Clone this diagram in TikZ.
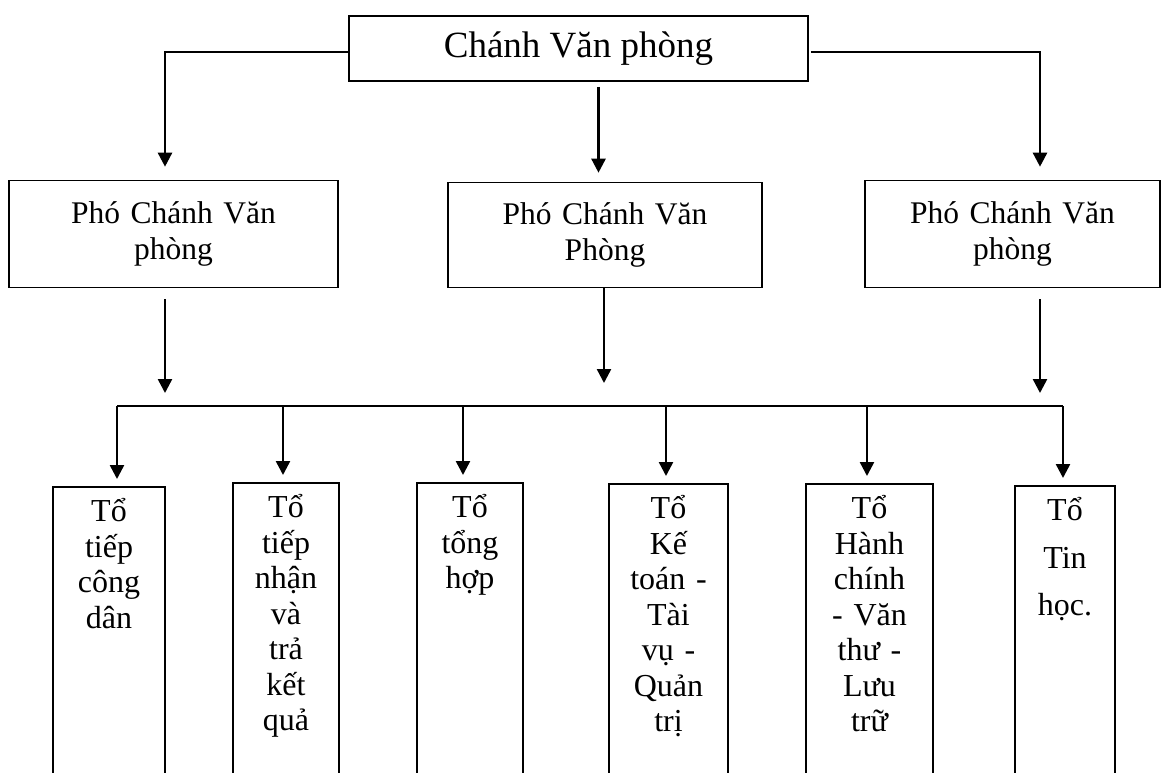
\documentclass[tikz,border=0pt]{standalone}
\usepackage{fontspec}
\setmainfont{Liberation Serif}
\usetikzlibrary{arrows.meta,positioning,calc}

\begin{document}
\begin{tikzpicture}[x=1pt,y=-1pt,
  hop/.style={draw,line width=1.6pt,inner sep=0pt,align=center,font=\fontsize{31.5}{36}\selectfont},
  tobox/.style={draw,line width=1.6pt,anchor=north,inner xsep=0pt,inner ysep=12pt,text width=#1,align=center,text depth=300pt,font=\fontsize{32}{35.5}\selectfont},
  arr/.style={line width=2.5pt,-{Triangle[length=14pt,width=14pt]}}]
\useasboundingbox (0,0) rectangle (1164,772);
\clip (0,0) rectangle (1164,772);
\node[hop,minimum width=459pt,minimum height=65pt,font=\fontsize{37}{44}\selectfont] (cvp) at (578.5,48.5) {Chánh Văn phòng};
\node[hop,minimum width=329pt,minimum height=107pt,text width=300pt] (p1) at (173.5,234) {Phó Chánh Văn\\phòng};
\node[hop,minimum width=314pt,minimum height=105pt,text width=290pt] (p2) at (605,235) {Phó Chánh Văn\\Phòng};
\node[hop,minimum width=295pt,minimum height=107pt,text width=280pt] (p3) at (1012.5,234) {Phó Chánh Văn\\phòng};
\draw[arr,shorten >=13pt] ([yshift=-3.5pt]cvp.west) -| ([xshift=-8.5pt]p1.north);
\draw[arr,shorten <=5pt,shorten >=9pt] ([xshift=20pt]cvp.south) -- ([xshift=20pt]cvp.south |- p2.north);
\draw[arr,shorten <=2pt,shorten >=13pt] ([yshift=-3.5pt]cvp.east) -| ([xshift=27.5pt]p3.north);
\node[tobox=112pt] (t1) at (109,486) {Tổ\\tiếp\\công\\dân};
\node[tobox=106pt] (t2) at (286,482) {Tổ\\tiếp\\nhận\\và\\trả\\kết\\quả};
\node[tobox=106pt] (t3) at (470,482) {Tổ\\tổng\\hợp};
\node[tobox=119pt] (t4) at (668.5,483) {Tổ\\Kế\\toán -\\Tài\\vụ -\\Quản\\trị};
\node[tobox=127pt] (t5) at (869.5,483) {Tổ\\Hành\\chính\\- Văn\\thư -\\Lưu\\trữ};
\node[tobox=100pt,font=\fontsize{32}{47.5}\selectfont] (t6) at (1065,485) {Tổ\\Tin\\học.};
\coordinate (b1) at (117,406);
\coordinate (b2) at (283,406);
\coordinate (b3) at (463,406);
\coordinate (b4) at (666,406);
\coordinate (b5) at (867,406);
\coordinate (b6) at (1063,406);
\draw[arr,shorten <=11pt,shorten >=13pt] ([xshift=-8.5pt]p1.south) -- ([xshift=-8.5pt]p1.south |- b1);
\draw[arr,shorten >=23pt] ([xshift=-1pt]p2.south) -- ([xshift=-1pt]p2.south |- b1);
\draw[arr,shorten <=11pt,shorten >=13pt] ([xshift=27.5pt]p3.south) -- ([xshift=27.5pt]p3.south |- b1);
\draw[line width=2.5pt] (b1) -- (b6);
\foreach \i in {1,...,6}
  \draw[arr,shorten >=7pt] (b\i) -- (b\i |- t\i.north);
\end{tikzpicture}
\end{document}
